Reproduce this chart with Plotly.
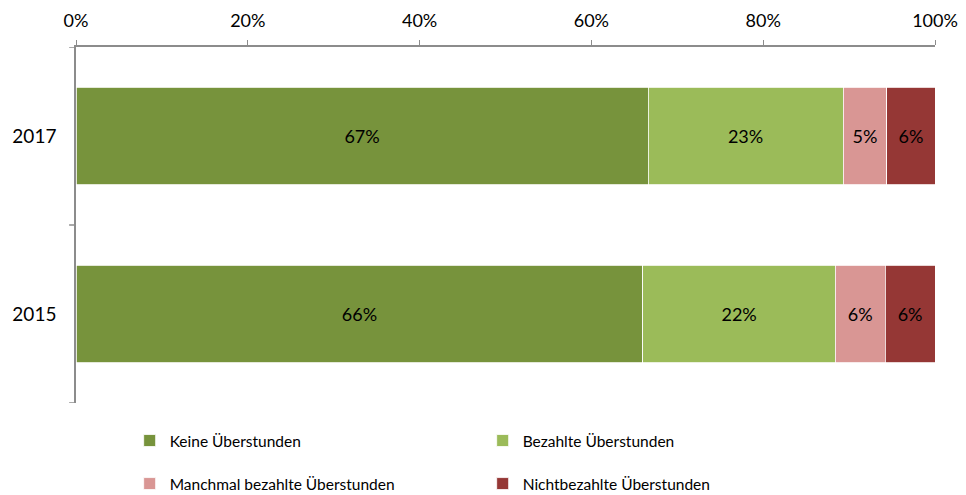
import plotly.graph_objects as go

years = ["2015", "2017"]
series_names = ["Keine Überstunden", "Bezahlte Überstunden",
                "Manchmal bezahlte Überstunden", "Nichtbezahlte Überstunden"]
keine = [66.0, 66.6]
bezahlt = [22.4, 22.7]
manchmal = [5.8, 5.1]
nicht = [5.8, 5.6]
labels = [["66%", "67%"], ["22%", "23%"], ["6%", "5%"], ["6%", "6%"]]
colors = ["#77933C", "#9BBB59", "#D99694", "#953735"]
tick_vals = [0, 20, 40, 60, 80, 100]
tick_text = ["0%", "20%", "40%", "60%", "80%", "100%"]

FONT = "Lato"
fig = go.Figure()
for i, (name, vals) in enumerate(zip(series_names, [keine, bezahlt, manchmal, nicht])):
    fig.add_trace(go.Bar(
        y=years, x=vals, name=name, orientation="h",
        marker=dict(color=colors[i], line=dict(color="white", width=0.8)),
        text=labels[i], textposition="inside", insidetextanchor="middle",
        textfont=dict(color="black", size=18, family=FONT),
        hoverinfo="x+name",
        legend="legend" if i < 2 else "legend2",
    ))

# page body has an 8px default margin, so the figure is sized to fit the window
fig.update_layout(
    barmode="stack", bargap=0.45,
    width=958, height=487,
    margin=dict(l=68, r=31, t=39, b=92),
    plot_bgcolor="white", paper_bgcolor="white",
    font=dict(family=FONT, size=18, color="black"),
    xaxis=dict(side="top", range=[0, 100], tickvals=tick_vals, ticktext=tick_text,
               showgrid=False, zeroline=False, showline=True, linecolor="#8c8c8c",
               linewidth=1.5, ticks="outside", ticklen=5, tickcolor="#8c8c8c",
               tickfont=dict(size=18, family=FONT), automargin=False,
               ticklabelstandoff=6),
    yaxis=dict(range=[-0.5, 1.5], showgrid=False, zeroline=False, showline=True,
               linecolor="#8c8c8c", linewidth=1.5, ticks="", tickfont=dict(size=19, family=FONT),
               ticklabelstandoff=14, automargin=False),
    legend=dict(orientation="h", xref="container", yref="container",
                x=0.127, xanchor="left", y=0.111, yanchor="middle",
                entrywidth=308, font=dict(size=15.5, family=FONT), traceorder="normal"),
    legend2=dict(orientation="h", xref="container", yref="container",
                 x=0.127, xanchor="left", y=0.0226, yanchor="middle",
                 entrywidth=308, font=dict(size=15.5, family=FONT), traceorder="normal"),
)
# category boundary ticks on the y axis
for yb in [-0.5, 0.5, 1.5]:
    fig.add_shape(type="line", xref="paper", yref="y", x0=-0.008, x1=0, y0=yb, y1=yb,
                  line=dict(color="#8c8c8c", width=1.5))
fig.write_html("out.html")
